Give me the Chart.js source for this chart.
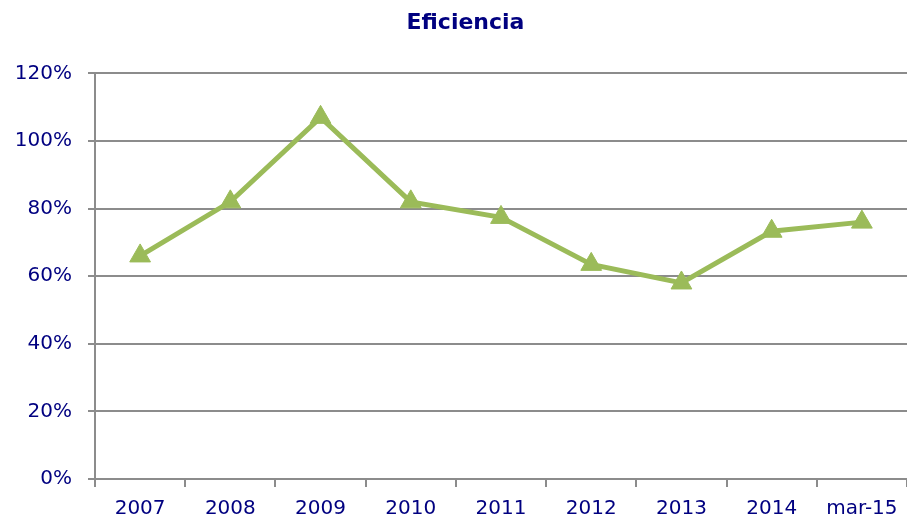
<!DOCTYPE html>
<html>
<head>
<meta charset="utf-8">
<script src="https://cdn.jsdelivr.net/npm/chart.js@4"></script>
<style>
  html, body { margin: 0; padding: 0; background: #fff; overflow: hidden; }
</style>
</head>
<body>
<canvas id="chart" width="907" height="517"></canvas>
<script>
const categories = ['2007', '2008', '2009', '2010', '2011', '2012', '2013', '2014', 'mar-15'];
const eficiencia = [66, 82, 107, 82, 77.4, 63.5, 58, 73.3, 76];
const yTicks = [0, 20, 40, 60, 80, 100, 120];

Chart.defaults.font.family = 'Verdana, "DejaVu Sans", sans-serif';
Chart.defaults.font.size = 20;
Chart.defaults.color = '#000080';

const gridGrey = '#8c8c8c';

// the title in the original sits a little right of the page centre
const shiftTitle = {
  id: 'shiftTitle',
  afterLayout(chart) {
    chart.titleBlock.left = 24;
  }
};

new Chart(document.getElementById('chart'), {
  type: 'line',
  data: {
    labels: categories,
    datasets: [{
      label: 'Eficiencia',
      data: eficiencia,
      borderColor: '#9BBB59',
      backgroundColor: '#9BBB59',
      borderWidth: 5,
      pointStyle: 'triangle',
      pointRadius: 12,
      pointHoverRadius: 12,
      pointBorderWidth: 1,
      tension: 0,
      fill: false
    }]
  },
  plugins: [shiftTitle],
  options: {
    responsive: false,
    animation: false,
    layout: { padding: 0, autoPadding: false },
    plugins: {
      legend: { display: false },
      tooltip: { enabled: false },
      title: {
        display: true,
        text: 'Eficiencia',
        color: '#000080',
        font: { size: 22, weight: 'bold' },
        padding: { top: 10, bottom: 37 }
      }
    },
    scales: {
      x: {
        offset: true,
        afterFit: (scale) => {
          scale.height = 38;
          scale.paddingLeft = 0;
          scale.paddingRight = 0;
        },
        grid: {
          offset: true,
          drawOnChartArea: false,
          drawTicks: true,
          tickLength: 8,
          color: gridGrey,
          lineWidth: 2
        },
        border: { color: gridGrey, width: 2 },
        ticks: { padding: 10, color: '#000080' }
      },
      y: {
        min: 0,
        max: 120,
        afterFit: (scale) => { scale.width = 95; },
        afterBuildTicks: (scale) => { scale.ticks = yTicks.map(v => ({ value: v })); },
        grid: {
          color: gridGrey,
          lineWidth: 2,
          tickLength: 7
        },
        border: { color: gridGrey, width: 2 },
        ticks: {
          padding: 16,
          color: '#000080',
          callback: (v) => v + '%'
        }
      }
    }
  }
});
</script>
</body>
</html>
